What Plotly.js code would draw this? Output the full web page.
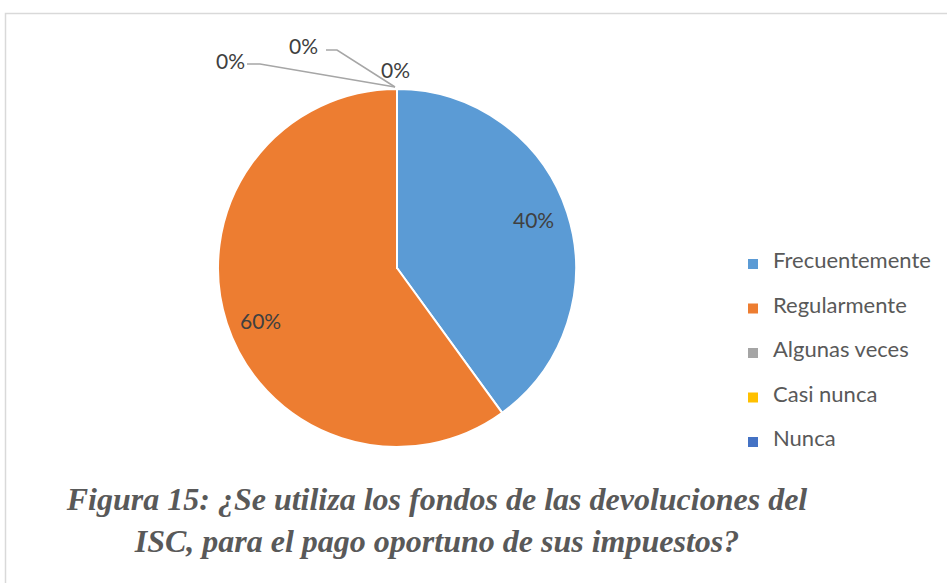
<!DOCTYPE html>
<html><head><meta charset="utf-8">
<script src="https://cdn.plot.ly/plotly-3.0.1.min.js"></script>
<style>html,body{margin:0;padding:0;background:#fff}#chart{width:947px;height:583px}</style>
</head><body><div id="chart"></div>
<script>
const categories = ['Frecuentemente', 'Regularmente', 'Algunas veces', 'Casi nunca', 'Nunca'];
const values = [40, 60, 0, 0, 0];
const colors = ['#5B9BD5', '#ED7D31', '#A5A5A5', '#FFC000', '#4472C4'];
const titleText = 'Figura 15: ¿Se utiliza los fondos de las devoluciones del<br>ISC, para el pago oportuno de sus impuestos?';

const W = 947, H = 583;
const mT = 89, mB = 136;
const plotH = H - mT - mB;
const R = plotH / 2;
const total = values.reduce((a, b) => a + b, 0);
const pct = values.map(v => Math.round(v / total * 100) + '%');
const legendLabels = categories.map(c => '<br><span style="font-size:22px">' + c + '</span><br> ');
const domX = [(397 - R) / W, (397 + R) / W];
const pieCx = (domX[0] + domX[1]) / 2;
const labelFont = {family: 'Lato, sans-serif', size: 21, color: '#404040'};

const trace = {
  type: 'pie',
  labels: legendLabels,
  values: values,
  textinfo: 'none',
  sort: false,
  direction: 'clockwise',
  rotation: 0,
  marker: {colors: colors, line: {color: '#FFFFFF', width: 2}},
  domain: {x: domX, y: [0, 1]},
  hoverinfo: 'none'
};

// data labels for non-zero slices, placed on the slice bisector (Excel-like best fit)
const annotations = [];
let cum = 0;
values.forEach((v, i) => {
  const mid = (cum + v / 2) / total * 2 * Math.PI;
  cum += v;
  if (v > 0) {
    const rho = 0.8 * R;
    annotations.push({
      text: pct[i], xref: 'paper', yref: 'paper', x: pieCx, y: 0.5,
      xshift: rho * Math.sin(mid), yshift: rho * Math.cos(mid) + (Math.cos(mid) < 0 ? -8 : 4),
      showarrow: false, xanchor: 'center', yanchor: 'middle', font: labelFont
    });
  }
});

// labels for the zero slices, pulled out with leader lines
const zeroPos = [
  {dx: -167, dy: 29, path: 'M-150,25 H-137 L-2,2'},
  {dx: -94, dy: 44, path: 'M-71,39 H-60 L-2,2'},
  {dx: -2, dy: 20, path: null}
];
const zeroIdx = values.map((v, i) => i).filter(i => values[i] === 0);
zeroIdx.forEach((idx, k) => {
  annotations.push({
    text: pct[idx], xref: 'paper', yref: 'paper', x: pieCx, y: 1,
    xshift: zeroPos[k].dx, yshift: zeroPos[k].dy, showarrow: false,
    xanchor: 'center', yanchor: 'middle', font: labelFont
  });
});

const shapes = zeroPos.filter(p => p.path).map(p => ({
  type: 'path', xref: 'paper', yref: 'paper', xsizemode: 'pixel', ysizemode: 'pixel',
  xanchor: pieCx, yanchor: 1, path: p.path,
  line: {color: '#A6A6A6', width: 1.5}
}));
shapes.push({
  type: 'rect', xref: 'paper', yref: 'paper',
  x0: 5.5 / W, x1: 1.05, y0: -0.5, y1: (H - mB - 13.5) / plotH,
  line: {color: '#D9D9D9', width: 1.5}, fillcolor: 'rgba(0,0,0,0)'
});

const layout = {
  width: W, height: H,
  margin: {l: 0, r: 0, t: mT, b: mB, pad: 0},
  paper_bgcolor: '#FFFFFF',
  showlegend: true,
  legend: {
    x: 733 / W, xanchor: 'left', y: (H - mB - 236.75) / plotH, yanchor: 'top',
    font: {family: 'Lato, sans-serif', size: 10.64, color: '#595959'},
    bgcolor: 'rgba(0,0,0,0)', borderwidth: 0, traceorder: 'normal'
  },
  title: {
    text: titleText,
    font: {family: 'Liberation Serif, Times New Roman, serif', size: 32, color: '#595959', weight: 'bold', style: 'italic'},
    xref: 'paper', x: 437 / W, xanchor: 'center',
    yref: 'container', y: 1 - 510 / H, yanchor: 'middle'
  },
  annotations: annotations,
  shapes: shapes
};

Plotly.newPlot('chart', [trace], layout, {displayModeBar: false, staticPlot: true});
</script>
</body></html>
